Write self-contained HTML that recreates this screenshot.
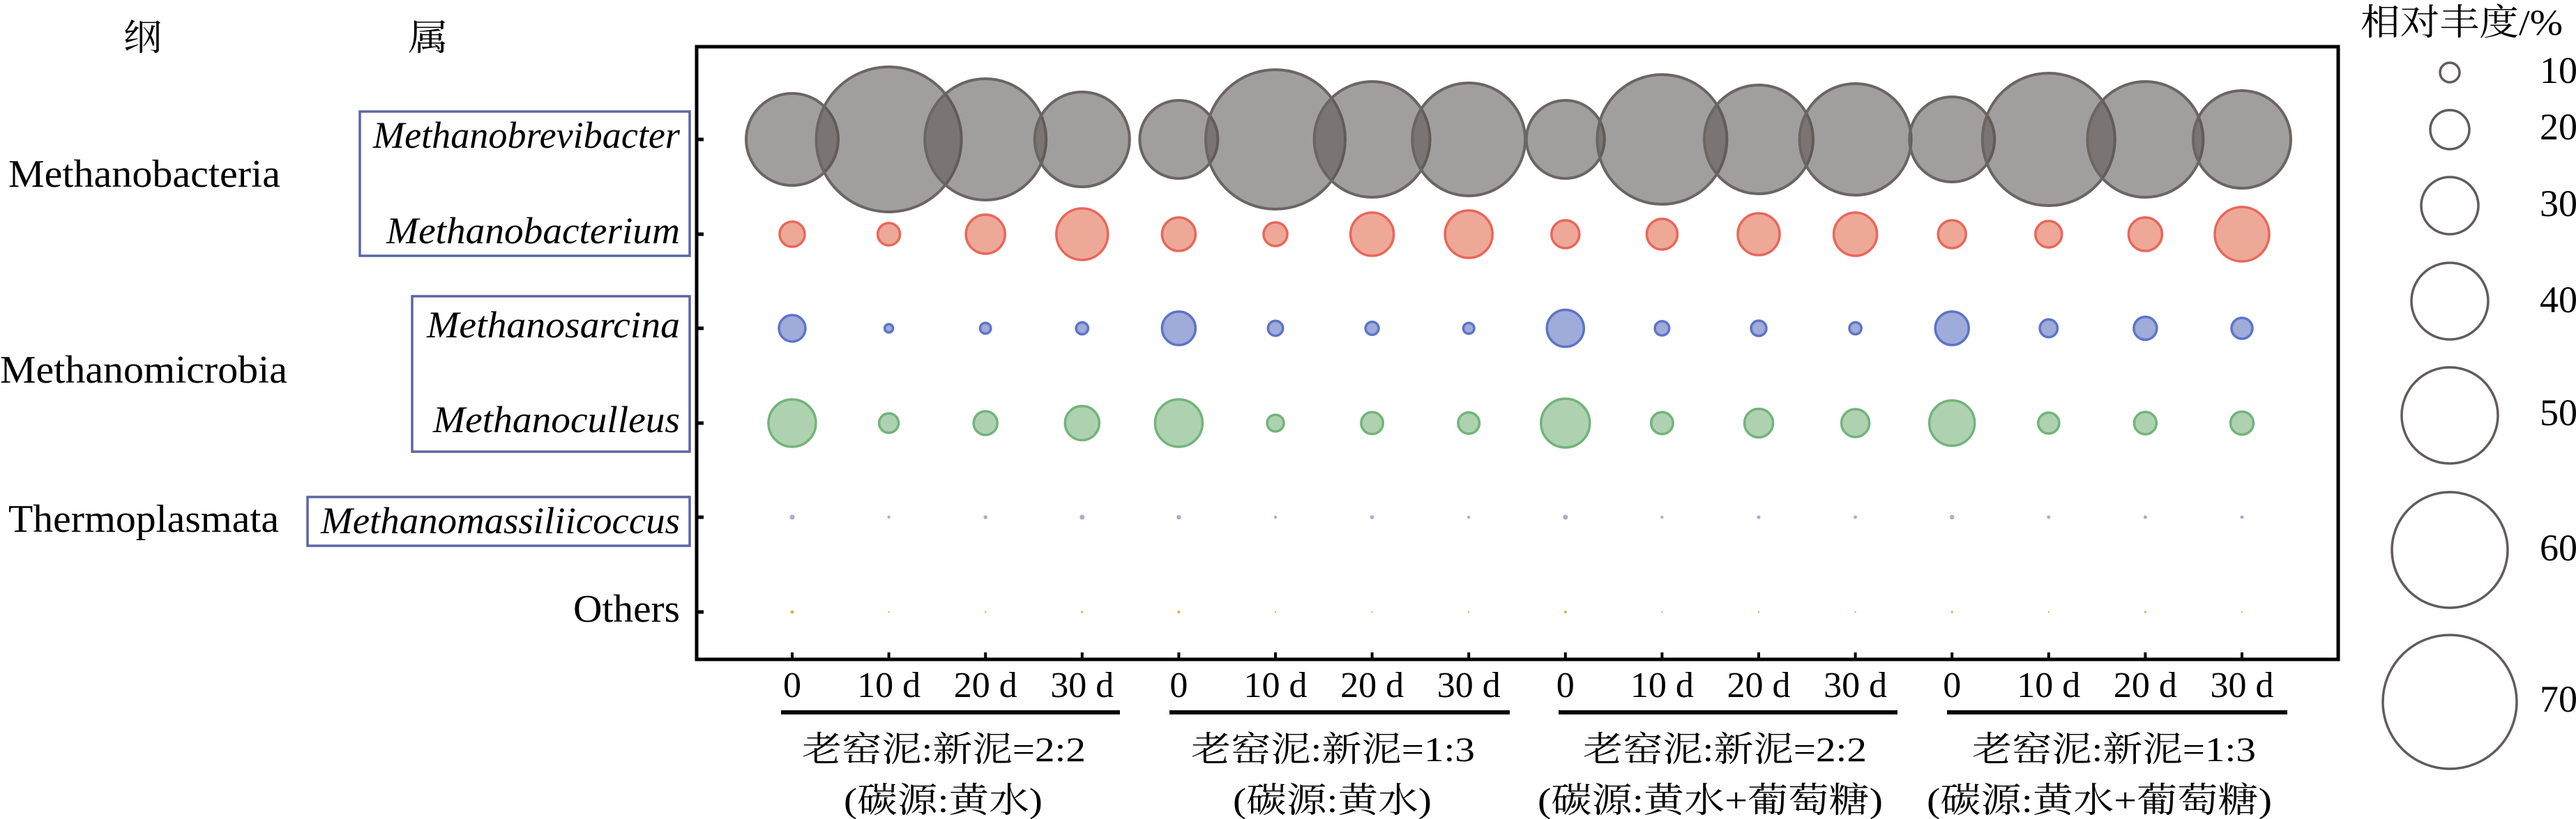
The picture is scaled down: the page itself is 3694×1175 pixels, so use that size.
<!DOCTYPE html>
<html><head><meta charset="utf-8"><style>
html,body{margin:0;padding:0;background:#fff;}
svg{display:block;}
.s{font-family:"Liberation Serif","Noto Serif CJK SC",serif;fill:#000;}
.i{font-family:"Liberation Serif",serif;font-style:italic;fill:#000;}
</style></head><body>
<svg width="3694" height="1175" viewBox="0 0 3694 1175" xmlns="http://www.w3.org/2000/svg">
<rect width="3694" height="1175" fill="#fff"/>
<text class="s" x="177" y="72" font-size="52" textLength="55" lengthAdjust="spacingAndGlyphs">纲</text>
<text class="s" x="585" y="72" font-size="52" textLength="58" lengthAdjust="spacingAndGlyphs">属</text>
<text class="s" x="12" y="268" font-size="56" textLength="390" lengthAdjust="spacingAndGlyphs">Methanobacteria</text>
<text class="s" x="0" y="549" font-size="56" textLength="412" lengthAdjust="spacingAndGlyphs">Methanomicrobia</text>
<text class="s" x="12" y="763" font-size="56" textLength="388" lengthAdjust="spacingAndGlyphs">Thermoplasmata</text>
<text class="s" x="822" y="892" font-size="56" textLength="153" lengthAdjust="spacingAndGlyphs">Others</text>
<g fill="none" stroke="#5b66a6" stroke-width="3.5">
<rect x="516" y="160" width="473" height="207"/>
<rect x="591" y="425" width="398" height="223"/>
<rect x="441" y="713" width="548" height="70"/>
</g>
<text class="i" x="535" y="212" font-size="54" textLength="440" lengthAdjust="spacingAndGlyphs">Methanobrevibacter</text>
<text class="i" x="554" y="349" font-size="54" textLength="421" lengthAdjust="spacingAndGlyphs">Methanobacterium</text>
<text class="i" x="612" y="484" font-size="54" textLength="363" lengthAdjust="spacingAndGlyphs">Methanosarcina</text>
<text class="i" x="621" y="620" font-size="54" textLength="354" lengthAdjust="spacingAndGlyphs">Methanoculleus</text>
<text class="i" x="460" y="765" font-size="54" textLength="515" lengthAdjust="spacingAndGlyphs">Methanomassiliicoccus</text>
<g id="b"></g>
<rect x="999" y="67" width="2354" height="879" fill="none" stroke="#000" stroke-width="5"/>
<g stroke="#000" stroke-width="5">
<line x1="999" y1="200" x2="1009" y2="200"/><line x1="999" y1="336" x2="1009" y2="336"/>
<line x1="999" y1="471" x2="1009" y2="471"/><line x1="999" y1="607" x2="1009" y2="607"/>
<line x1="999" y1="742" x2="1009" y2="742"/><line x1="999" y1="878" x2="1009" y2="878"/>
</g>
<g id="ticks" stroke="#000" stroke-width="4"></g>
<g id="tl"></g>
<g fill="#000">
<rect x="1120" y="1019" width="486" height="6"/>
<rect x="1677" y="1019" width="488" height="6"/>
<rect x="2235" y="1019" width="486" height="6"/>
<rect x="2792" y="1019" width="488" height="6"/>
</g>
<text class="s" x="1150" y="1092" font-size="50" textLength="407" lengthAdjust="spacingAndGlyphs">老窑泥:新泥=2:2</text>
<text class="s" x="1210" y="1165" font-size="50" textLength="285" lengthAdjust="spacingAndGlyphs">(碳源:黄水)</text>
<text class="s" x="1708" y="1092" font-size="50" textLength="407" lengthAdjust="spacingAndGlyphs">老窑泥:新泥=1:3</text>
<text class="s" x="1768" y="1165" font-size="50" textLength="285" lengthAdjust="spacingAndGlyphs">(碳源:黄水)</text>
<text class="s" x="2270" y="1092" font-size="50" textLength="407" lengthAdjust="spacingAndGlyphs">老窑泥:新泥=2:2</text>
<text class="s" x="2205" y="1165" font-size="50" textLength="495" lengthAdjust="spacingAndGlyphs">(碳源:黄水+葡萄糖)</text>
<text class="s" x="2828" y="1092" font-size="50" textLength="407" lengthAdjust="spacingAndGlyphs">老窑泥:新泥=1:3</text>
<text class="s" x="2763" y="1165" font-size="50" textLength="495" lengthAdjust="spacingAndGlyphs">(碳源:黄水+葡萄糖)</text>
<text class="s" x="3385" y="50" font-size="52" textLength="290" lengthAdjust="spacingAndGlyphs">相对丰度/%</text>
<g fill="none" stroke="#615c5a" stroke-width="3.5">
<circle cx="3513" cy="104" r="14"/>
<circle cx="3513" cy="186" r="28"/>
<circle cx="3513" cy="295" r="41"/>
<circle cx="3513" cy="432" r="55"/>
<circle cx="3513" cy="596" r="69"/>
<circle cx="3513" cy="789" r="83"/>
<circle cx="3513" cy="1007" r="96"/>
</g>
<g class="s" font-size="54">
<text x="3642" y="119">10</text>
<text x="3642" y="200">20</text>
<text x="3642" y="310">30</text>
<text x="3642" y="448">40</text>
<text x="3642" y="610">50</text>
<text x="3642" y="804">60</text>
<text x="3642" y="1021">70</text>
</g>
</svg>
<script>
(function(){
var NS="http://www.w3.org/2000/svg";
var xs=[];for(var i=0;i<16;i++)xs.push(1136+138.6*i);
var rows=[
 {y:200,f:"rgba(91,84,82,0.57)",s:"#6b6563",sw:4,r:[66,104,87,68,56,100,83,81,56,93,78,80,61,95,83,70]},
 {y:336,f:"#eea898",s:"#e8675a",sw:3.5,r:[18,16,28,37,24,17,31,34,20,22,30,31,20,19,24,39]},
 {y:471,f:"#9fabd9",s:"#5c74c8",sw:3.5,r:[19,6,7.7,8.6,24,10.7,9.4,7.8,26.5,10.3,11,8.6,24,12.7,16.5,15]},
 {y:607,f:"#aed2b0",s:"#72b47a",sw:3.5,r:[34,14,17,24.5,34,12,15.7,15.3,35,15.7,20.5,20,32.5,15,16,16.5]},
 {y:742,f:"#b3a6d3",s:"none",sw:0,r:[3.5,2.2,2.8,3.5,3.2,2.2,2.8,2.2,3.5,2.2,2.5,2.5,3.2,2.5,2.5,2.5]},
 {y:878,f:"#d6b548",s:"none",sw:0,r:[2.5,1.2,1.2,1.6,2,1.2,1.2,1.2,2,1.2,1.2,1.2,1.6,1.2,1.6,1.2]}
];
var g=document.getElementById("b");
rows.forEach(function(row){row.r.forEach(function(r,i){
 var c=document.createElementNS(NS,"circle");
 c.setAttribute("cx",xs[i]);c.setAttribute("cy",row.y);c.setAttribute("r",r);
 c.setAttribute("fill",row.f);c.setAttribute("stroke",row.s);c.setAttribute("stroke-width",row.sw);
 g.appendChild(c);});});
var t=document.getElementById("ticks"),tl=document.getElementById("tl");
var labs=["0","10 d","20 d","30 d"];
xs.forEach(function(x,i){
 var l=document.createElementNS(NS,"line");
 l.setAttribute("x1",x);l.setAttribute("x2",x);l.setAttribute("y1",936);l.setAttribute("y2",946);t.appendChild(l);
 var s=document.createElementNS(NS,"text");
 s.setAttribute("class","s");s.setAttribute("x",x);s.setAttribute("y",1000);
 s.setAttribute("font-size","52");s.setAttribute("text-anchor","middle");
 s.textContent=labs[i%4];tl.appendChild(s);});
})();
</script>
</body></html>
